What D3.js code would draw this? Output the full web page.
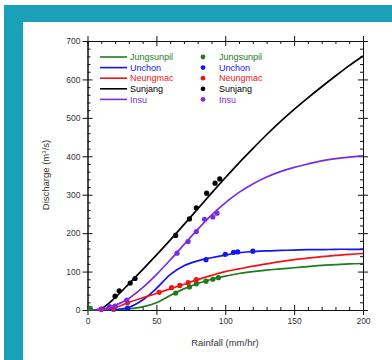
<!DOCTYPE html>
<html>
<head>
<meta charset="utf-8">
<script src="https://cdn.jsdelivr.net/npm/d3@7"></script>
<style>
  body { margin: 0; background: #fff; }
  svg { display: block; font-family: "Liberation Sans", Arial, sans-serif; }
</style>
</head>
<body>
<svg id="chart" width="392" height="360"></svg>
<script>
// fitted curves, sampled every 10 mm/hr
const curveRain = [0, 10, 20, 30, 40, 50, 60, 70, 80, 90, 100, 110, 120, 130, 140, 150, 160, 170, 180, 190, 200];
const fitJungsunpil = [0, 0, 1, 3, 8, 19, 38, 55, 69, 80, 88, 95, 100, 104, 107, 110, 113, 116, 118, 120, 121];
const fitUnchon = [0, 0, 1, 7, 26, 56, 92, 115, 128, 136, 143, 149, 152, 154, 155, 156, 157, 157, 158, 158, 158];
const fitNeungmac = [0, 1, 6, 20, 32, 43, 55, 67, 79, 90, 100, 107, 114, 120, 126, 131, 135, 139, 142, 145, 147];
const fitSunjang = [0, 4, 32, 68, 105, 143, 182, 222, 263, 304, 344, 383, 420, 456, 490, 522, 552, 581, 609, 636, 661];
const fitInsu = [0, 2, 12, 30, 58, 92, 130, 170, 210, 247, 279, 306, 328, 346, 360, 371, 380, 388, 394, 398, 401];

// observed points [rainfall, discharge]
const obsJungsunpil = [[2, 4], [64, 44], [74, 60], [79, 68], [86, 75], [91, 80], [95, 84]];
const obsUnchon = [[19, 2], [29, 5], [86, 131], [100, 145], [106, 150], [109, 151], [120, 153]];
const obsNeungmac = [[10, 1], [19, 4], [29, 19], [52, 46], [61, 58], [67, 64], [73, 71], [79, 79]];
const obsSunjang = [[20, 36], [23, 50], [31, 70], [34.5, 82], [64, 194], [74, 237], [79, 266], [86.5, 304], [92.6, 330], [96, 341]];
const obsInsu = [[10, 3], [16, 9], [20, 10], [28.5, 26], [65, 148], [73, 178], [79, 204], [85, 236], [91, 242], [94, 252]];

const seriesNames = ["Jungsunpil", "Unchon", "Neungmac", "Sunjang", "Insu"];
const seriesColors = ["#1e7b1e", "#1414f0", "#f01414", "#000000", "#7b2be0"];
const fits = [fitJungsunpil, fitUnchon, fitNeungmac, fitSunjang, fitInsu];
const observed = [obsJungsunpil, obsUnchon, obsNeungmac, obsSunjang, obsInsu];

const xMajor = [0, 50, 100, 150, 200];
const yMajor = [0, 100, 200, 300, 400, 500, 600, 700];

const svg = d3.select("#chart");

// teal frame
svg.append("rect").attr("x", 4).attr("y", 5).attr("width", 388).attr("height", 355).attr("fill", "#1ba0b9");
svg.append("rect").attr("x", 23).attr("y", 22).attr("width", 369).attr("height", 338).attr("fill", "#fff");

const x = d3.scaleLinear().domain([0, 200]).range([87.5, 363]);
const y = d3.scaleLinear().domain([0, 700]).range([310, 41]);

const xMinor = d3.range(0, 201, 10).filter(v => v % 50 !== 0);
const yMinor = d3.range(0, 701, 20).filter(v => v % 100 !== 0);

function styleAxis(g) {
  g.select(".domain").attr("stroke", "#111");
  g.selectAll(".tick line").attr("stroke", "#111");
  g.selectAll(".tick text").attr("fill", "#333").attr("font-size", "8.5px")
    .attr("font-family", "Liberation Sans, Arial, sans-serif");
}

// bottom
svg.append("g").attr("transform", "translate(0,310)")
  .call(d3.axisBottom(x).tickValues(xMajor).tickSize(5).tickSizeOuter(0).tickPadding(3))
  .call(styleAxis)
  .call(g => g.selectAll(".tick line").attr("y1", -5));
svg.append("g").attr("transform", "translate(0,310)")
  .call(d3.axisBottom(x).tickValues(xMinor).tickSize(-3).tickFormat(""))
  .call(styleAxis);
// top
svg.append("g").attr("transform", "translate(0,41)")
  .call(d3.axisTop(x).tickValues(xMajor).tickSize(5).tickSizeOuter(0).tickFormat(""))
  .call(styleAxis)
  .call(g => g.selectAll(".tick line").attr("y1", 5));
svg.append("g").attr("transform", "translate(0,41)")
  .call(d3.axisTop(x).tickValues(xMinor).tickSize(-3).tickFormat(""))
  .call(styleAxis);
// left
svg.append("g").attr("transform", "translate(87.5,0)")
  .call(d3.axisLeft(y).tickValues(yMajor).tickSize(5).tickSizeOuter(0).tickPadding(2))
  .call(styleAxis)
  .call(g => g.selectAll(".tick line").attr("x1", 5));
svg.append("g").attr("transform", "translate(87.5,0)")
  .call(d3.axisLeft(y).tickValues(yMinor).tickSize(-3).tickFormat(""))
  .call(styleAxis);
// right
svg.append("g").attr("transform", "translate(363,0)")
  .call(d3.axisRight(y).tickValues(yMajor).tickSize(5).tickSizeOuter(0).tickFormat(""))
  .call(styleAxis)
  .call(g => g.selectAll(".tick line").attr("x1", -5));
svg.append("g").attr("transform", "translate(363,0)")
  .call(d3.axisRight(y).tickValues(yMinor).tickSize(-3).tickFormat(""))
  .call(styleAxis);

// axis titles
svg.append("text")
  .attr("x", 225).attr("y", 346)
  .attr("text-anchor", "middle").attr("font-size", "9.5px").attr("fill", "#333")
  .text("Rainfall (mm/hr)");

const yTitle = svg.append("text")
  .attr("transform", "translate(49,175) rotate(-90)")
  .attr("text-anchor", "middle").attr("font-size", "9.5px").attr("fill", "#333");
yTitle.append("tspan").text("Discharge (m");
yTitle.append("tspan").attr("font-size", "6px").attr("dy", -3).text("3");
yTitle.append("tspan").attr("dy", 3).text("/s)");

// curves
const line = d3.line()
  .x(d => x(d[0]))
  .y(d => y(d[1]))
  .curve(d3.curveCatmullRom.alpha(0.5));

fits.forEach((vals, i) => {
  svg.append("path")
    .datum(curveRain.map((r, j) => [r, vals[j]]))
    .attr("fill", "none")
    .attr("stroke", seriesColors[i])
    .attr("stroke-width", 1.7)
    .attr("d", line);
});

observed.forEach((pts, i) => {
  svg.append("g").selectAll("circle")
    .data(pts)
    .join("circle")
    .attr("cx", d => x(d[0]))
    .attr("cy", d => y(d[1]))
    .attr("r", 2.6)
    .attr("fill", seriesColors[i]);
});

// legend
const legend = svg.append("g").attr("class", "legend");
seriesNames.forEach((name, i) => {
  const ly = 57 + i * 10.6;
  legend.append("line")
    .attr("x1", 100).attr("x2", 127).attr("y1", ly).attr("y2", ly)
    .attr("stroke", seriesColors[i]).attr("stroke-width", 1.6);
  legend.append("text")
    .attr("x", 130).attr("y", ly + 3.2)
    .attr("font-size", "9px").attr("fill", seriesColors[i])
    .text(name);
  legend.append("circle")
    .attr("cx", 203).attr("cy", ly).attr("r", 2.4)
    .attr("fill", seriesColors[i]);
  legend.append("text")
    .attr("x", 219).attr("y", ly + 3.2)
    .attr("font-size", "9px").attr("fill", seriesColors[i])
    .text(name);
});
</script>
</body>
</html>
